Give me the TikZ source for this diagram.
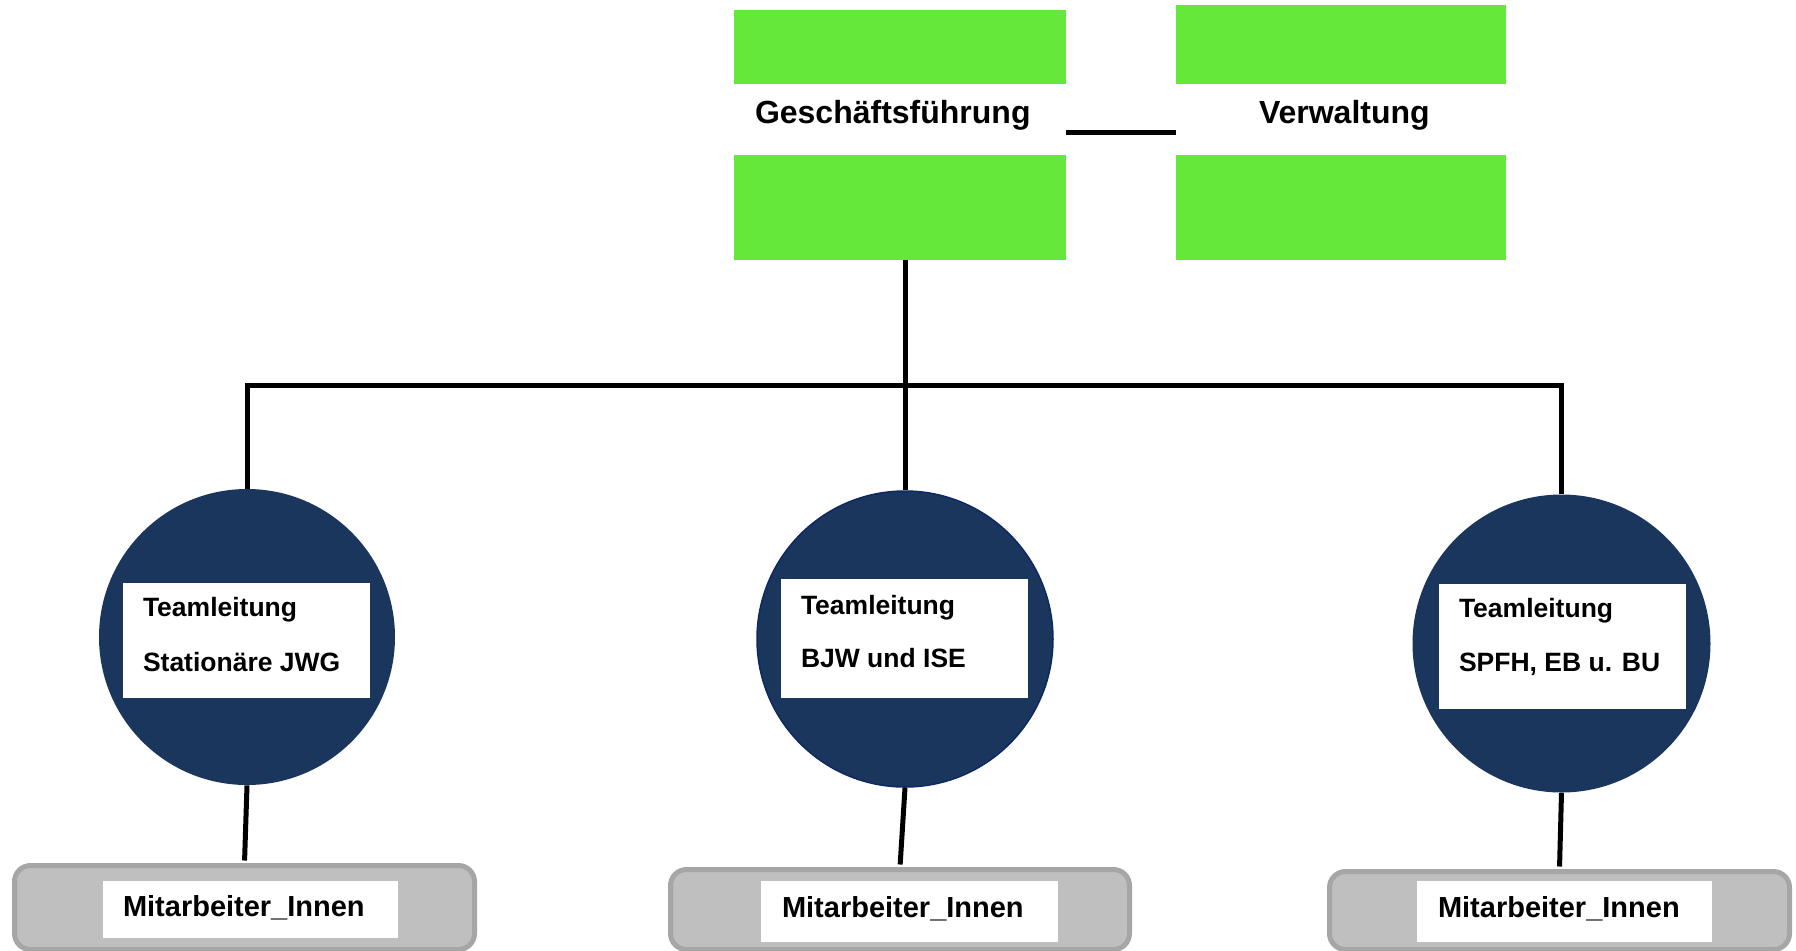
\documentclass[tikz,border=0pt]{standalone}
\usepackage{fontspec}
\setmainfont{Liberation Sans}
\usepackage{tikz}
\usetikzlibrary{positioning}
\usepackage{xcolor}
\definecolor{leitgreen}{RGB}{102,232,58}
\definecolor{teamblue}{RGB}{26,54,93}
\definecolor{teamrim}{RGB}{14,40,100}
\definecolor{mafill}{RGB}{191,191,191}
\definecolor{marim}{RGB}{166,166,166}

\begin{document}
\begin{tikzpicture}[x=0.5pt, y=-0.5pt,
    headbox/.style={rectangle, fill=leitgreen, inner sep=0pt},
    band/.style={rectangle, fill=white, inner sep=0pt,
        minimum height=35.5pt},
    teamcircle/.style={circle, fill=teamblue, inner sep=0pt,
        minimum size=148pt},
    teambox/.style={rectangle, fill=white, inner sep=0pt,
        minimum width=123.5pt},
    mabox/.style={rectangle, rounded corners=8pt, fill=mafill,
        draw=marim, line width=2.5pt, inner sep=0pt},
    mawhite/.style={rectangle, fill=white, inner sep=0pt},
    headtext/.style={font=\fontsize{16}{19}\selectfont\bfseries,
        anchor=base west, inner sep=0pt},
    teamtext/.style={font=\fontsize{13.25}{16}\selectfont\bfseries,
        anchor=base west, inner sep=0pt},
    matext/.style={font=\fontsize{14.5}{17}\selectfont\bfseries,
        anchor=base west, inner sep=0pt},
    conn/.style={draw=black, line width=2.5pt}]

    \useasboundingbox (0,0) rectangle (1796,950);

    % Leitung
    \node[headbox, minimum width=166pt, minimum height=125pt] (gf) at (900,135) {};
    \node[band, minimum width=166pt] (gfband) at (900,119.5) {};
    \node[headtext] (gftext) at ([xshift=10.5pt,yshift=-1.75pt]gfband.west) {Geschäftsführung};

    \node[headbox, minimum width=165pt, minimum height=127.5pt] (vw) at (1341,132.5) {};
    \node[band, minimum width=165pt] (vwband) at (1341,119.5) {};
    \node[headtext] (vwtext) at ([xshift=41.5pt,yshift=-1.75pt]vwband.west) {Verwaltung};

    % Teams
    \node[teamcircle] (c1) at (247,637) {};
    \node[teamcircle, draw=teamrim, line width=0.75pt] (c2) at (905,639) {};
    \node[teamcircle, minimum size=149pt] (c3) at (1561.5,643.5) {};

    \node[teambox, minimum height=57.5pt] (r1) at (246.5,640.5) {};
    \node[teambox, minimum height=59.5pt] (r2) at (904.5,638.5) {};
    \node[teambox, minimum height=62.5pt] (r3) at (1562.5,646.5) {};

    \node[teamtext] (t1a) at ([xshift=10pt,yshift=-17pt]r1.north west) {Teamleitung};
    \node[teamtext] (t1b) at ([yshift=-27.5pt]t1a.base west) {Stationäre JWG};
    \node[teamtext] (t2a) at ([xshift=10pt,yshift=-18pt]r2.north west) {Teamleitung};
    \node[teamtext] (t2b) at ([yshift=-26.5pt]t2a.base west) {BJW und ISE};
    \node[teamtext] (t3a) at ([xshift=10pt,yshift=-17pt]r3.north west) {Teamleitung};
    \node[teamtext] (t3b) at ([yshift=-27pt]t3a.base west) {SPFH, EB u. BU};

    % Mitarbeiter_Innen
    \node[mabox, minimum width=230pt, minimum height=42pt] (m1) at (244.5,907.5) {};
    \node[mabox, minimum width=229.5pt, minimum height=40pt] (m2) at (900,909.5) {};
    \node[mabox, minimum width=230pt, minimum height=39pt] (m3) at (1559.5,910.5) {};

    \node[mawhite, minimum width=147.5pt, minimum height=28.5pt] (w1) at (250.5,909.5) {};
    \node[mawhite, minimum width=148.5pt, minimum height=30.5pt] (w2) at (909.5,911.5) {};
    \node[mawhite, minimum width=147.5pt, minimum height=30.5pt] (w3) at (1564.5,911.5) {};

    \node[matext] at ([xshift=10pt,yshift=-3.5pt]w1.west) {Mitarbeiter\_Innen};
    \node[matext] at ([xshift=10.5pt,yshift=-2.75pt]w2.west) {Mitarbeiter\_Innen};
    \node[matext] at ([xshift=10.5pt,yshift=-2.75pt]w3.west) {Mitarbeiter\_Innen};

    % Linien
    \coordinate (bus) at (0,385);
    \coordinate (gfr) at ([yshift=1.5pt]gf.east);
    \draw[conn] (gfr) -- (gfr -| vw.west);
    \draw[conn] (c2.north |- gf.south) -- (c2.north);
    \draw[conn] (c1.north) -- (c1.north |- bus) -- (c3.north |- bus) -- (c3.north);
    \draw[conn, shorten >=1.25pt] (c1.south) -- (m1.north);
    \draw[conn, shorten >=1.25pt] (c2.south) -- (m2.north);
    \draw[conn, shorten >=1.25pt] (c3.south) -- (m3.north);

\end{tikzpicture}
\end{document}
